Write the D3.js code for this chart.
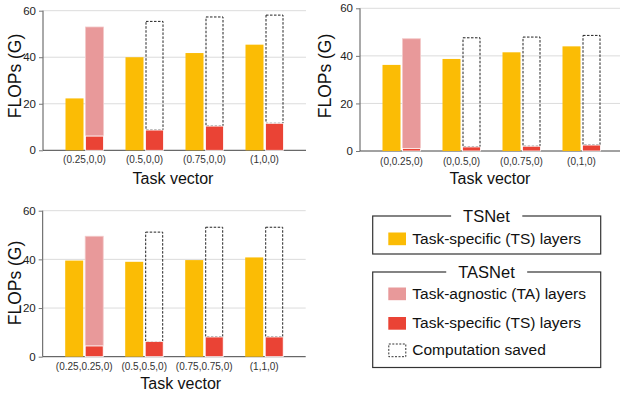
<!DOCTYPE html>
<html>
<head>
<meta charset="utf-8">
<script src="https://cdn.jsdelivr.net/npm/d3@7"></script>
<style>
  body { margin: 0; background: #fff; }
  svg { display: block; font-family: "Liberation Sans", Arial, sans-serif; }
</style>
</head>
<body>
<div class="graph"></div>
<script>
//Tick labels for each panel
const cats1 = ["(0.25,0,0)", "(0.5,0,0)", "(0.75,0,0)", "(1,0,0)"];
const cats2 = ["(0,0.25,0)", "(0,0.5,0)", "(0,0.75,0)", "(0,1,0)"];
const cats3 = ["(0.25,0.25,0)", "(0.5,0.5,0)", "(0.75,0.75,0)", "(1,1,0)"];

//TSNet task-specific FLOPs
const tsnet1 = [22.3, 40.0, 41.8, 45.4];
const tsnet2 = [36.2, 38.7, 41.5, 44.0];
const tsnet3 = [39.5, 39.0, 39.7, 40.8];

//TASNet task-specific FLOPs
const tasTS1 = [6.1, 8.7, 10.4, 11.6];
const tasTS2 = [1.1, 1.7, 2.0, 2.5];
const tasTS3 = [4.4, 6.2, 8.1, 8.1];

//TASNet task-agnostic FLOPs (only computed once)
const tasTA1 = [46.9, 0, 0, 0];
const tasTA2 = [46.1, 0, 0, 0];
const tasTA3 = [45.1, 0, 0, 0];

//Computation saved by reusing the task-agnostic layers
const saved1 = [0, 46.7, 46.9, 46.5];
const saved2 = [0, 45.9, 45.9, 46.1];
const saved3 = [0, 45.0, 45.1, 45.1];

const yTicks = [0, 20, 40, 60];

const YELLOW = "#fbbc05",
      PINK = "#e8999a",
      RED = "#ea4335";

let svg = d3
    .select(".graph")
    .append("svg")
    .attr("width", 620)
    .attr("height", 394);

//Draws one bar panel
function drawPanel(cats, tsnet, tasTS, tasTA, saved, pos) {
    let WIDTH = 263;
    let g = svg.append("g").attr("transform", `translate(${pos.x}, 0)`);

    let yScale = d3.scaleLinear().domain([0, 60]).range([pos.bottom, pos.top]);
    let x0 = d3.scaleBand().domain(cats).range([11.5, 251.5]);
    let x1 = d3.scaleBand().domain(["tsnet", "tasnet"]).range([11, 49]).paddingInner(0.1);

    //Gridlines
    g.append("g")
     .selectAll("line")
     .data(yTicks.slice(1))
     .enter()
     .append("line")
     .attr("x1", 0)
     .attr("x2", WIDTH)
     .attr("y1", d => yScale(d))
     .attr("y2", d => yScale(d))
     .style("stroke", "#dcdcdc")
     .style("stroke-width", 1);

    //Y axis
    g.append("g")
     .call(d3.axisLeft(yScale).tickValues(yTicks).tickSize(4).tickPadding(3))
     .attr("font-family", null)
     .attr("font-size", null)
     .call(a => a.select(".domain").attr("d", `M0,${pos.top}V${pos.bottom}`).style("stroke", "#555"))
     .call(a => a.selectAll(".tick line").style("stroke", "#777"))
     .call(a => a.selectAll("text").attr("font-size", "11.5px").style("fill", "#222"));

    //Bottom line
    g.append("line")
     .attr("x1", 0)
     .attr("x2", WIDTH)
     .attr("y1", pos.bottom)
     .attr("y2", pos.bottom)
     .style("stroke", "#444")
     .style("stroke-width", 1);

    let groups = g.selectAll(".group")
        .data(cats)
        .enter()
        .append("g")
        .attr("transform", d => `translate(${x0(d)}, 0)`);

    //TSNet bars
    groups.append("rect")
          .attr("x", x1("tsnet"))
          .attr("width", x1.bandwidth())
          .attr("y", (d, i) => yScale(tsnet[i]))
          .attr("height", (d, i) => yScale(0) - yScale(tsnet[i]))
          .style("fill", YELLOW);

    //TASNet task-agnostic bars
    groups.filter((d, i) => tasTA[i] > 0)
          .append("rect")
          .attr("x", x1("tasnet"))
          .attr("width", x1.bandwidth())
          .attr("y", d => yScale(tasTS[cats.indexOf(d)] + tasTA[cats.indexOf(d)]))
          .attr("height", d => yScale(tasTS[cats.indexOf(d)]) - yScale(tasTS[cats.indexOf(d)] + tasTA[cats.indexOf(d)]))
          .style("fill", PINK)
          .style("stroke", "#f3c9c9")
          .style("stroke-width", 0.8);

    //Computation saved boxes
    groups.filter((d, i) => saved[i] > 0)
          .append("rect")
          .attr("x", x1("tasnet") + 0.5)
          .attr("width", x1.bandwidth() - 1)
          .attr("y", d => yScale(tasTS[cats.indexOf(d)] + saved[cats.indexOf(d)]))
          .attr("height", d => yScale(tasTS[cats.indexOf(d)]) - yScale(tasTS[cats.indexOf(d)] + saved[cats.indexOf(d)]))
          .style("fill", "none")
          .style("stroke", "#222")
          .style("stroke-width", 1)
          .style("stroke-dasharray", "2.5,1.5");

    //TASNet task-specific bars
    groups.append("rect")
          .attr("x", x1("tasnet"))
          .attr("width", x1.bandwidth())
          .attr("y", (d, i) => yScale(tasTS[i]))
          .attr("height", (d, i) => yScale(0) - yScale(tasTS[i]))
          .style("fill", RED)
          .style("stroke", "#fff")
          .style("stroke-width", 0.8);

    //X tick labels
    groups.append("text")
          .attr("x", 30)
          .attr("y", pos.tickY)
          .attr("text-anchor", "middle")
          .attr("font-size", "10px")
          .style("fill", "#333")
          .text(d => d);

    //Axis titles
    g.append("text")
     .attr("x", pos.xLabel)
     .attr("y", pos.xLabelY)
     .attr("text-anchor", "middle")
     .attr("font-size", "16px")
     .style("fill", "#111")
     .text("Task vector");

    g.append("text")
     .attr("transform", `translate(${pos.yLabelX}, ${pos.yLabelY}) rotate(-90)`)
     .attr("text-anchor", "middle")
     .attr("font-size", "17.5px")
     .style("fill", "#111")
     .text("FLOPs (G)");
}

drawPanel(cats1, tsnet1, tasTS1, tasTA1, saved1,
    {x: 43, top: 10.7, bottom: 150.3, tickY: 163, xLabel: 130, xLabelY: 184, yLabelX: -22, yLabelY: 76});
drawPanel(cats2, tsnet2, tasTS2, tasTA2, saved2,
    {x: 360, top: 8.3, bottom: 151, tickY: 164.5, xLabel: 130, xLabelY: 183.5, yLabelX: -29, yLabelY: 76});
drawPanel(cats3, tsnet3, tasTS3, tasTA3, saved3,
    {x: 42.7, top: 210.7, bottom: 356.7, tickY: 369.5, xLabel: 138, xLabelY: 388.5, yLabelX: -22, yLabelY: 283});

//Creating the legend
const legendBoxes = [
    {title: "TSNet", y: 216, h: 38, items: [
        {label: "Task-specific (TS) layers", type: "fill", color: YELLOW, y: 232.5}
    ]},
    {title: "TASNet", y: 272, h: 95.5, items: [
        {label: "Task-agnostic (TA) layers", type: "fill", color: PINK, y: 287.5},
        {label: "Task-specific (TS) layers", type: "fill", color: RED, y: 317},
        {label: "Computation saved", type: "dash", color: "none", y: 344}
    ]}
];

legendBoxes.forEach(box => {
    let legend = svg.append("g");

    legend.append("rect")
          .attr("x", 372.7)
          .attr("y", box.y)
          .attr("width", 228)
          .attr("height", box.h)
          .style("fill", "none")
          .style("stroke", "#333")
          .style("stroke-width", 1.2);

    //White patch that breaks the border behind the title
    let gap = legend.append("rect")
          .style("fill", "#fff");

    let title = legend.append("text")
          .attr("x", 486.5)
          .attr("y", box.y + 5.5)
          .attr("text-anchor", "middle")
          .attr("font-size", "16.5px")
          .style("fill", "#111")
          .text(box.title);

    let bb = title.node().getBBox();
    gap.attr("x", bb.x - 12)
       .attr("y", box.y - 3)
       .attr("width", bb.width + 24)
       .attr("height", 6);

    box.items.forEach(item => {
        legend.append("rect")
              .attr("x", item.type === "dash" ? 388.8 : 388.3)
              .attr("y", item.y)
              .attr("width", item.type === "dash" ? 17 : 17.7)
              .attr("height", 12.7)
              .style("fill", item.color)
              .style("stroke", item.type === "dash" ? "#333" : "none")
              .style("stroke-dasharray", item.type === "dash" ? "2,1.5" : null);

        legend.append("text")
              .attr("x", 412.3)
              .attr("y", item.y + 11.3)
              .attr("font-size", "15.5px")
              .style("fill", "#111")
              .text(item.label);
    });
});
</script>
</body>
</html>
